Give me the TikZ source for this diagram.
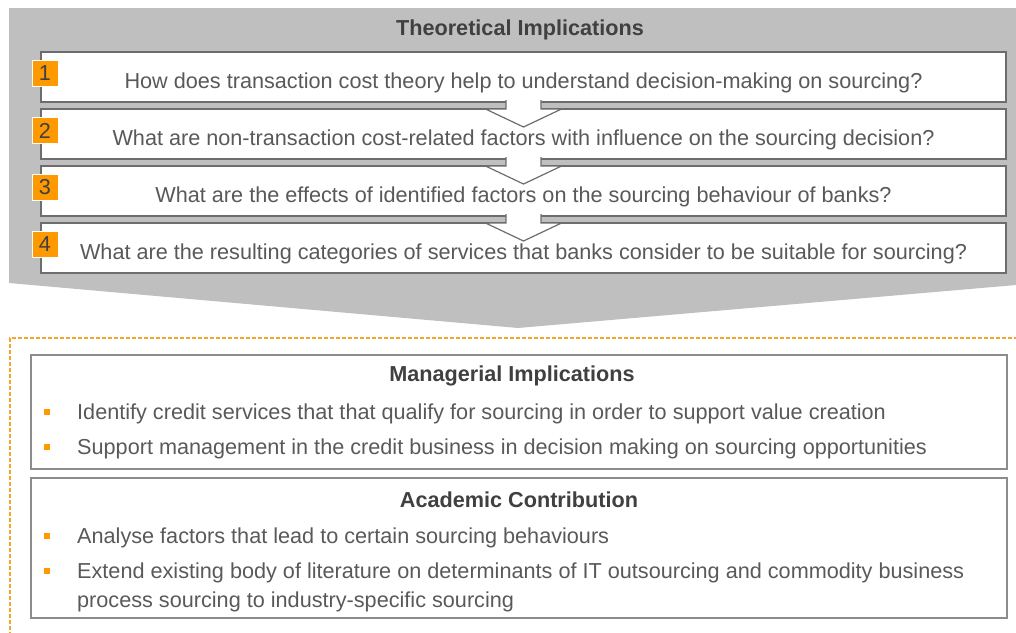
\documentclass[tikz,border=0pt]{standalone}
\usepackage{fontspec}
\setmainfont{Liberation Sans}
\usepackage{tikz}
\usetikzlibrary{positioning, calc}
\definecolor{bandgray}{RGB}{191, 191, 191}
\definecolor{framegray}{RGB}{109, 109, 109}
\definecolor{panelgray}{RGB}{140, 140, 140}
\definecolor{textgray}{RGB}{89, 89, 89}
\definecolor{headgray}{RGB}{64, 64, 64}
\definecolor{accentorange}{RGB}{255, 153, 0}
\definecolor{dashorange}{RGB}{245, 165, 45}

\begin{document}
\begin{tikzpicture}[
		x=1pt, y=-1pt,
		node distance=7pt,
		question/.style={rectangle, draw=framegray, line width=1.5pt, fill=white, minimum width=965pt, minimum height=50pt, inner sep=0pt, outer sep=0pt, text=textgray, font=\fontsize{21.65}{25}\selectfont, text height=22pt, text depth=0pt},
		numbox/.style={rectangle, draw=white, line width=0.8pt, fill=accentorange, minimum size=26pt, inner sep=0pt, text=headgray, font=\fontsize{21.65}{25}\selectfont},
		chevron/.style={fill=white, draw=framegray, line width=1.2pt},
		panel/.style={rectangle, draw=panelgray, line width=1.2pt, minimum width=976pt, inner sep=0pt},
		heading/.style={font=\fontsize{21.65}{25}\selectfont\bfseries, text=headgray},
		pointtext/.style={anchor=base west, inner sep=0pt, align=left, text=textgray, font=\fontsize{21.65}{29}\selectfont},
		bulletbox/.style={rectangle, fill=accentorange, minimum size=6pt, inner sep=0pt}
	]
	\useasboundingbox (0,0) rectangle (1016,632);
	\clip (0,0) rectangle (1016,632);

	% Theoretical block (big gray arrow)
	\fill[bandgray] (9,8) -- (1016,8) -- (1016,285) -- (518,328) -- (9,283) -- cycle;
	\node[heading] (theo) at (520,30) {Theoretical Implications};

	\node[question] (q1) at (523.5,77) {How does transaction cost theory help to understand decision-making on sourcing?};
	\node[question, below=of q1] (q2) {What are non-transaction cost-related factors with influence on the sourcing decision?};
	\node[question, below=of q2] (q3) {What are the effects of identified factors on the sourcing behaviour of banks?};
	\node[question, below=of q3] (q4) {What are the resulting categories of services that banks consider to be suitable for sourcing?};

	% step arrows between the questions
	\foreach \a/\b in {q1/q2, q2/q3, q3/q4}
		\filldraw[chevron] ([xshift=-17.5pt,yshift=2pt]\a.south) -- ([xshift=-17.5pt]\b.north) -- ([xshift=-38pt]\b.north) -- ([yshift=-18pt]\b.north) -- ([xshift=38pt]\b.north) -- ([xshift=17.5pt]\b.north) -- ([xshift=17.5pt,yshift=2pt]\a.south);

	% numbers
	\foreach \n in {1,...,4}
		\node[numbox] (n\n) at ([xshift=4pt,yshift=3.5pt]q\n.west) {\n};

	% Implications area
	\draw[dashorange, line width=1.5pt, dash pattern=on 4pt off 2pt] (1030,338) -- (10,338) -- (10,650);

	% Managerial
	\node[panel, minimum height=114pt] (mgr) at (519,412) {};
	\node[heading] (mgrhead) at (512,376) {Managerial Implications};
	\node[bulletbox] (bm1) at (47,412) {};
	\node[pointtext] (m1) at ([xshift=30pt,yshift=-7pt]bm1.center) {Identify credit services that that qualify for sourcing in order to support value creation};
	\node[bulletbox] (bm2) at (47,447) {};
	\node[pointtext] (m2) at ([xshift=30pt,yshift=-7pt]bm2.center) {Support management in the credit business in decision making on sourcing opportunities};

	% Academic (two-line item sits on the baseline of its last line)
	\node[panel, minimum height=140pt] (acad) at (519,548) {};
	\node[heading] (acadhead) at (519,500) {Academic Contribution};
	\node[bulletbox] (ba1) at (47,536) {};
	\node[pointtext] (a1) at ([xshift=30pt,yshift=-7pt]ba1.center) {Analyse factors that lead to certain sourcing behaviours};
	\node[bulletbox] (ba2) at (47,571) {};
	\node[pointtext] (a2) at ([xshift=30pt,yshift=-36pt]ba2.center) {Extend existing body of literature on determinants of IT outsourcing and commodity business\\process sourcing to industry-specific sourcing};
\end{tikzpicture}
\end{document}
